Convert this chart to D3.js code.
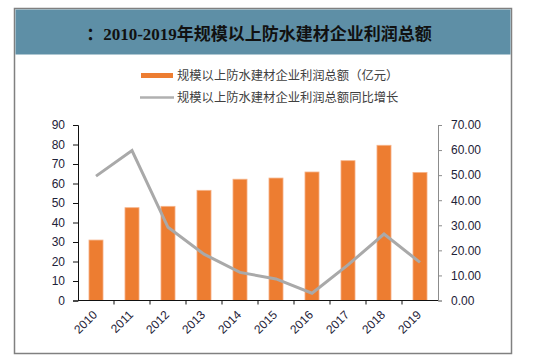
<!DOCTYPE html>
<html>
<head>
<meta charset="utf-8">
<script src="https://cdn.jsdelivr.net/npm/d3@7.9.0/dist/d3.min.js"></script>
<style>
  html, body { margin: 0; padding: 0; background: #fff; }
  svg { display: block; }
  .tick text { font-family: Arial, "Liberation Sans", sans-serif; font-size: 12px; fill: #1e2238; }
</style>
</head>
<body>
<svg id="chart" width="537" height="358"></svg>
<script>
const years = ['2010', '2011', '2012', '2013', '2014', '2015', '2016', '2017', '2018', '2019'];
const profit = [31.0, 47.6, 48.3, 56.5, 62.2, 62.8, 65.9, 71.7, 79.6, 65.7];
const growth = [49.6, 59.8, 29.2, 18.5, 11.2, 8.6, 2.9, 14.2, 26.5, 15.2];
const leftTicks = [0, 10, 20, 30, 40, 50, 60, 70, 80, 90];
const rightTicks = [0, 10, 20, 30, 40, 50, 60, 70];
const title = '：2010-2019年规模以上防水建材企业利润总额';
const legendBar = '规模以上防水建材企业利润总额（亿元）';
const legendLine = '规模以上防水建材企业利润总额同比增长';

const svg = d3.select('#chart');

// frame + title band
svg.append('rect')
  .attr('x', 14.5).attr('y', 8.5).attr('width', 497).attr('height', 345)
  .attr('fill', '#fff').attr('stroke', '#808080').attr('stroke-width', 1.5);
svg.append('rect')
  .attr('x', 15.5).attr('y', 9.5).attr('width', 495).attr('height', 45)
  .attr('fill', '#5e8fa6');
svg.append('text')
  .attr('x', 259).attr('y', 40)
  .attr('text-anchor', 'middle')
  .attr('font-family', '"Liberation Serif", "Noto Sans CJK SC", serif')
  .attr('font-weight', 'bold')
  .attr('font-size', 17)
  .attr('fill', '#111')
  .text(title);

// legend
const legend = svg.append('g')
  .attr('font-family', '"Noto Sans CJK SC", sans-serif')
  .attr('font-size', 12.3)
  .attr('fill', '#404040');
legend.append('rect').attr('x', 141).attr('y', 73).attr('width', 32).attr('height', 5).attr('fill', '#ed7d31');
legend.append('text').attr('x', 177).attr('y', 80).text(legendBar);
legend.append('line').attr('x1', 140).attr('x2', 174).attr('y1', 97.5).attr('y2', 97.5)
  .attr('stroke', '#b0b0b0').attr('stroke-width', 2.5);
legend.append('text').attr('x', 177).attr('y', 102).text(legendLine);

// scales
const x = d3.scaleBand().domain(years).range([78, 438]).paddingInner(0.61).paddingOuter(0.305);
const xEdge = d3.scaleBand().domain(years).range([78, 438]);
const yL = d3.scaleLinear().domain([0, 90]).range([300.5, 125]);
const yR = d3.scaleLinear().domain([0, 70]).range([300.5, 125]);

// bars
svg.append('g').selectAll('rect')
  .data(profit)
  .join('rect')
  .attr('x', (d, i) => x(years[i]))
  .attr('y', d => yL(d))
  .attr('width', x.bandwidth())
  .attr('height', d => yL(0) - yL(d))
  .attr('fill', '#ed7d31')
  .attr('stroke', '#f6b48a')
  .attr('stroke-width', 0.8);

// growth line
const line = d3.line()
  .x((d, i) => x(years[i]) + x.bandwidth() / 2)
  .y(d => yR(d));
svg.append('path')
  .datum(growth)
  .attr('d', line)
  .attr('fill', 'none')
  .attr('stroke', '#a9a9a9')
  .attr('stroke-width', 3)
  .attr('stroke-linejoin', 'miter');

// left axis
const gL = svg.append('g')
  .attr('transform', 'translate(78,0)')
  .call(d3.axisLeft(yL).tickValues(leftTicks).tickSize(5).tickPadding(8));
gL.select('.domain').attr('stroke', '#111');
gL.selectAll('.tick line').attr('stroke', '#111');

// right axis
const gR = svg.append('g')
  .attr('transform', 'translate(438,0)')
  .call(d3.axisRight(yR).tickValues(rightTicks).tickSize(4).tickPadding(9).tickFormat(d3.format('.2f')));
gR.select('.domain').attr('stroke', '#8c8c8c');
gR.selectAll('.tick line').attr('stroke', '#8c8c8c');

// x axis
const gX = svg.append('g').attr('transform', 'translate(0,300.5)');
gX.append('line').attr('x1', 78).attr('x2', 438).attr('stroke', '#111').attr('stroke-width', 1.2);
gX.selectAll('line.tk')
  .data(years.slice(1))
  .join('line')
  .attr('class', 'tk')
  .attr('x1', d => xEdge(d)).attr('x2', d => xEdge(d))
  .attr('y1', 0).attr('y2', 4)
  .attr('stroke', '#111');
gX.selectAll('text')
  .data(years)
  .join('text')
  .attr('transform', d => `translate(${x(d) + x.bandwidth() / 2 + 2},15) rotate(-45)`)
  .attr('text-anchor', 'end')
  .attr('font-family', 'Arial, "Liberation Sans", sans-serif')
  .attr('font-size', 12)
  .attr('fill', '#1e2238')
  .text(d => d);
</script>
</body>
</html>
